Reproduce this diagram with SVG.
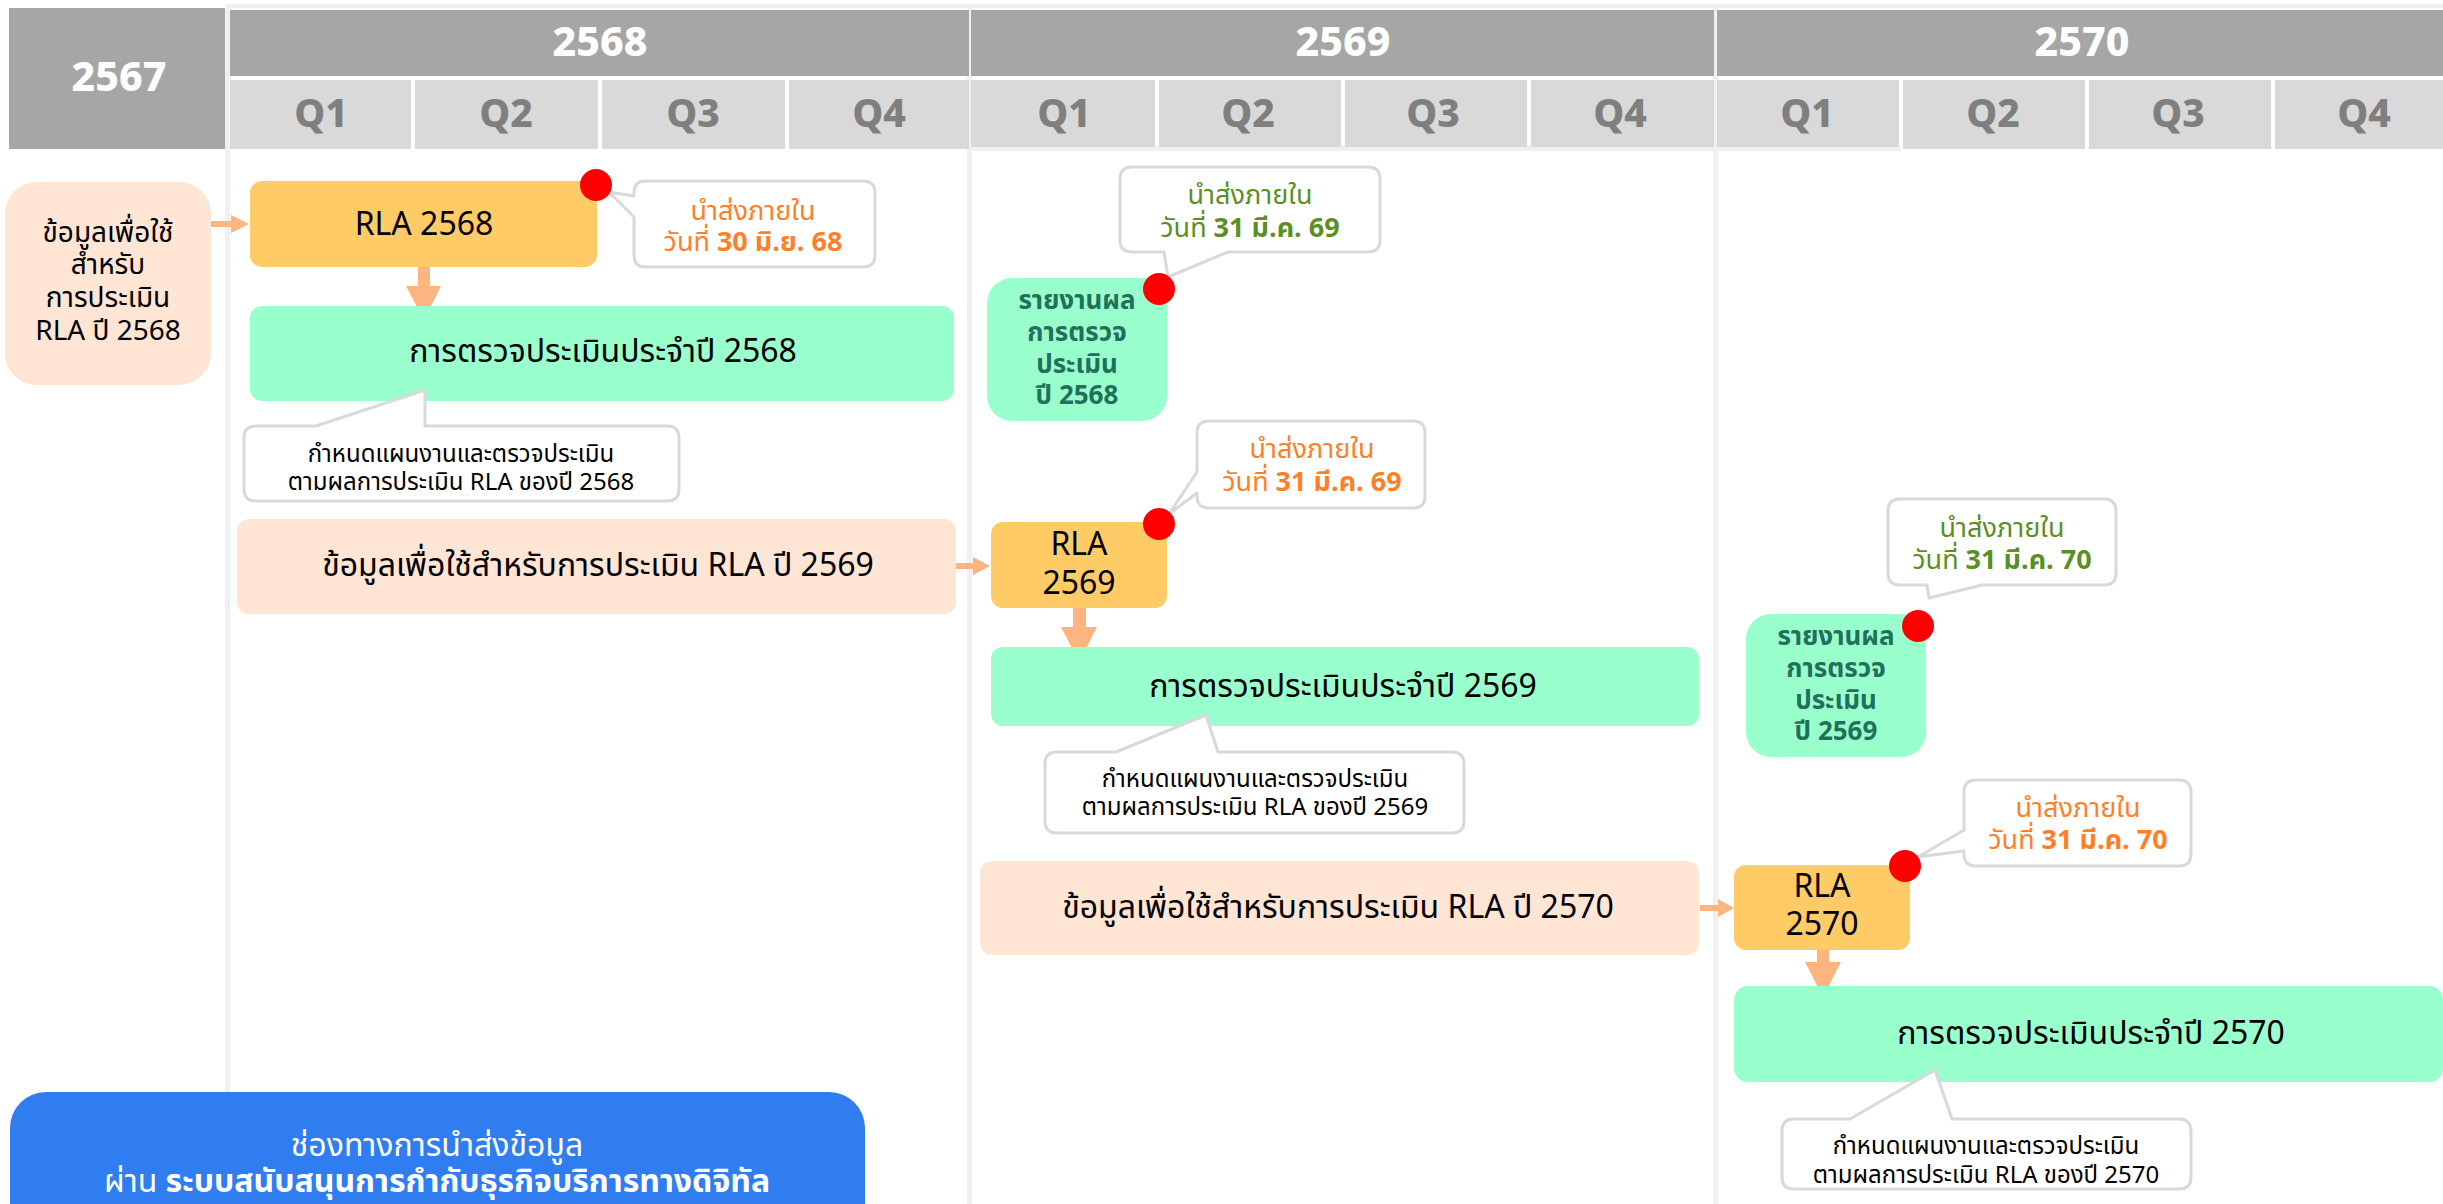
<svg xmlns="http://www.w3.org/2000/svg" width="2443" height="1204" viewBox="0 0 2443 1204">
<style>
text{font-family:'Noto Sans Thai','Noto Sans','DejaVu Sans',sans-serif;text-anchor:middle}
.yr{fill:#a6a6a6}
.qc{fill:#d9d9d9}
.yt{fill:#ffffff;font-size:41px;font-weight:800}
.qt{fill:#7f7f7f;font-size:39px;font-weight:800}
.grid{fill:#f0f0f0}
.peach{fill:#fee5d4}
.orange{fill:#fecb67}
.green{fill:#99ffcc}
.dot{fill:#ff0000}
.call{fill:#ffffff;stroke:#d9d9d9;stroke-width:3;stroke-linejoin:round}
.arr{fill:#fdb47e}
.t28{font-size:32px;fill:#000000}
.t26{font-size:28px;fill:#000000}
.t21{font-size:24px;fill:#000000}
.to{font-size:27px;fill:#ff7f27}
.tg{font-size:27px;fill:#5b8f22}
.rep{font-size:26px;font-weight:700;fill:#21705a}
.b{font-weight:700}
.blue{fill:#2f7df0}
.tw{font-size:32px;fill:#ffffff}
</style>

<g id="grid">
<rect class="grid" x="225" y="4" width="2218" height="4"/>
<rect class="grid" x="225" y="4" width="5" height="1200"/>
<rect class="grid" x="967" y="4" width="5" height="1200"/>
<rect class="grid" x="1713" y="4" width="5" height="1200"/>
<rect class="grid" x="971" y="146" width="930" height="5"/>
</g>

<g id="header">
<rect class="yr" x="9" y="8" width="216" height="141"/>
<text class="yt" x="119" y="91">2567</text>
<rect class="yr" x="230" y="10" width="739" height="66"/>
<text class="yt" x="600" y="56">2568</text>
<rect class="yr" x="971" y="10" width="743" height="66"/>
<text class="yt" x="1343" y="56">2569</text>
<rect class="yr" x="1717" y="10" width="726" height="66"/>
<text class="yt" x="2082" y="56">2570</text>

<rect class="qc" x="230" y="80" width="181" height="69"/>
<rect class="qc" x="415" y="80" width="183" height="69"/>
<rect class="qc" x="602" y="80" width="183" height="69"/>
<rect class="qc" x="789" y="80" width="180" height="69"/>
<text class="qt" x="321" y="127">Q1</text>
<text class="qt" x="506" y="127">Q2</text>
<text class="qt" x="693" y="127">Q3</text>
<text class="qt" x="879" y="127">Q4</text>

<rect class="qc" x="971" y="80" width="184" height="67"/>
<rect class="qc" x="1159" y="80" width="182" height="67"/>
<rect class="qc" x="1345" y="80" width="182" height="67"/>
<rect class="qc" x="1531" y="80" width="183" height="67"/>
<text class="qt" x="1064" y="127">Q1</text>
<text class="qt" x="1248" y="127">Q2</text>
<text class="qt" x="1433" y="127">Q3</text>
<text class="qt" x="1620" y="127">Q4</text>

<rect class="qc" x="1717" y="80" width="182" height="67"/>
<rect class="qc" x="1903" y="80" width="182" height="69"/>
<rect class="qc" x="2089" y="80" width="182" height="69"/>
<rect class="qc" x="2275" y="80" width="168" height="69"/>
<text class="qt" x="1807" y="127">Q1</text>
<text class="qt" x="1993" y="127">Q2</text>
<text class="qt" x="2178" y="127">Q3</text>
<text class="qt" x="2364" y="127">Q4</text>
</g>

<g id="connectors">
<path class="arr" d="M211,221 H231 V215 L249,224 L231,233 V227 H211 Z"/>
<path class="arr" d="M418,267 H430 V286 H441 L424,320 L406,286 H418 Z"/>
<path class="arr" d="M956,563 H973 V557 L990,566 L973,575 V569 H956 Z"/>
<path class="arr" d="M1073,608 H1086 V627 H1097 L1079,662 L1061,627 H1073 Z"/>
<path class="arr" d="M1700,905 H1718 V899 L1734,908 L1718,917 V911 H1700 Z"/>
<path class="arr" d="M1817,950 H1829 V962 H1841 L1823,997 L1805,962 H1817 Z"/>
</g>

<g id="input2568">
<rect class="peach" x="5" y="182" width="206" height="203" rx="32"/>
<text class="t26" x="108" y="242">ข้อมูลเพื่อใช้</text>
<text class="t26" x="108" y="274">สำหรับ</text>
<text class="t26" x="108" y="307">การประเมิน</text>
<text class="t26" x="108" y="340">RLA ปี 2568</text>
</g>

<g id="rla2568">
<rect class="orange" x="250" y="181" width="347" height="86" rx="12"/>
<text class="t28" x="424" y="235">RLA 2568</text>
</g>

<g id="note-rla2568">
<path class="call" d="M646,181 H863 Q875,181 875,193 V255 Q875,267 863,267 H646 Q634,267 634,255 V217 L609,192 L634,196 V193 Q634,181 646,181 Z"/>
<text class="to" x="753" y="220">นำส่งภายใน</text>
<text class="to" x="753" y="251">วันที่ <tspan class="b">30 มิ.ย. 68</tspan></text>
</g>
<circle id="dot-rla2568" class="dot" cx="596" cy="185" r="16"/>

<g id="audit2568">
<rect class="green" x="250" y="306" width="704" height="95" rx="12"/>
<text class="t28" x="603" y="362">การตรวจประเมินประจำปี 2568</text>
</g>

<g id="note-audit2568">
<path class="call" d="M256,426 H316 L425,390 L425,426 H667 Q679,426 679,438 V489 Q679,501 667,501 H256 Q244,501 244,489 V438 Q244,426 256,426 Z"/>
<text class="t21" x="461" y="462">กำหนดแผนงานและตรวจประเมิน</text>
<text class="t21" x="461" y="490">ตามผลการประเมิน RLA ของปี 2568</text>
</g>

<g id="input2569">
<rect class="peach" x="237" y="519" width="719" height="95" rx="12"/>
<text class="t28" x="598" y="576">ข้อมูลเพื่อใช้สำหรับการประเมิน RLA ปี 2569</text>
</g>

<g id="report2568">
<rect class="green" x="987" y="278" width="180" height="143" rx="25"/>
<text class="rep" x="1077" y="309">รายงานผล</text>
<text class="rep" x="1077" y="341">การตรวจ</text>
<text class="rep" x="1077" y="373">ประเมิน</text>
<text class="rep" x="1077" y="404">ปี 2568</text>
</g>

<g id="note-report2568">
<path class="call" d="M1132,167 H1368 Q1380,167 1380,179 V240 Q1380,252 1368,252 H1228 L1168,277 L1164,252 H1132 Q1120,252 1120,240 V179 Q1120,167 1132,167 Z"/>
<text class="tg" x="1250" y="204">นำส่งภายใน</text>
<text class="tg" x="1250" y="237">วันที่ <tspan class="b">31 มี.ค. 69</tspan></text>
</g>
<circle id="dot-report2568" class="dot" cx="1159" cy="289" r="16"/>

<g id="rla2569">
<rect class="orange" x="991" y="522" width="176" height="86" rx="12"/>
<text class="t28" x="1079" y="555">RLA</text>
<text class="t28" x="1079" y="594">2569</text>
</g>

<g id="note-rla2569">
<path class="call" d="M1209,421 H1413 Q1425,421 1425,433 V496 Q1425,508 1413,508 H1209 Q1197,508 1197,496 V493 L1169,514 L1197,472 V433 Q1197,421 1209,421 Z"/>
<text class="to" x="1312" y="458">นำส่งภายใน</text>
<text class="to" x="1312" y="491">วันที่ <tspan class="b">31 มี.ค. 69</tspan></text>
</g>
<circle id="dot-rla2569" class="dot" cx="1159" cy="524" r="16"/>

<g id="audit2569">
<rect class="green" x="991" y="647" width="708" height="79" rx="12"/>
<text class="t28" x="1343" y="697">การตรวจประเมินประจำปี 2569</text>
</g>

<g id="note-audit2569">
<path class="call" d="M1057,752 H1116 L1206,715 L1218,752 H1452 Q1464,752 1464,764 V821 Q1464,833 1452,833 H1057 Q1045,833 1045,821 V764 Q1045,752 1057,752 Z"/>
<text class="t21" x="1255" y="787">กำหนดแผนงานและตรวจประเมิน</text>
<text class="t21" x="1255" y="815">ตามผลการประเมิน RLA ของปี 2569</text>
</g>

<g id="input2570">
<rect class="peach" x="980" y="861" width="719" height="94" rx="12"/>
<text class="t28" x="1338" y="918">ข้อมูลเพื่อใช้สำหรับการประเมิน RLA ปี 2570</text>
</g>

<g id="report2569">
<rect class="green" x="1746" y="614" width="180" height="143" rx="25"/>
<text class="rep" x="1836" y="645">รายงานผล</text>
<text class="rep" x="1836" y="677">การตรวจ</text>
<text class="rep" x="1836" y="709">ประเมิน</text>
<text class="rep" x="1836" y="740">ปี 2569</text>
</g>

<g id="note-report2569">
<path class="call" d="M1900,499 H2104 Q2116,499 2116,511 V573 Q2116,585 2104,585 H1982 L1929,598 L1927,585 H1900 Q1888,585 1888,573 V511 Q1888,499 1900,499 Z"/>
<text class="tg" x="2002" y="537">นำส่งภายใน</text>
<text class="tg" x="2002" y="569">วันที่ <tspan class="b">31 มี.ค. 70</tspan></text>
</g>
<circle id="dot-report2569" class="dot" cx="1918" cy="626" r="16"/>

<g id="rla2570">
<rect class="orange" x="1734" y="865" width="176" height="85" rx="12"/>
<text class="t28" x="1822" y="897">RLA</text>
<text class="t28" x="1822" y="935">2570</text>
</g>

<g id="note-rla2570">
<path class="call" d="M1976,780 H2179 Q2191,780 2191,792 V854 Q2191,866 2179,866 H1976 Q1964,866 1964,854 V851 L1918,857 L1964,830 V792 Q1964,780 1976,780 Z"/>
<text class="to" x="2078" y="817">นำส่งภายใน</text>
<text class="to" x="2078" y="849">วันที่ <tspan class="b">31 มี.ค. 70</tspan></text>
</g>
<circle id="dot-rla2570" class="dot" cx="1905" cy="866" r="16"/>

<g id="audit2570">
<rect class="green" x="1734" y="986" width="709" height="96" rx="14"/>
<text class="t28" x="2091" y="1044">การตรวจประเมินประจำปี 2570</text>
</g>

<g id="note-audit2570">
<path class="call" d="M1794,1119 H1850 L1935,1070 L1952,1119 H2179 Q2191,1119 2191,1131 V1177 Q2191,1189 2179,1189 H1794 Q1782,1189 1782,1177 V1131 Q1782,1119 1794,1119 Z"/>
<text class="t21" x="1986" y="1154">กำหนดแผนงานและตรวจประเมิน</text>
<text class="t21" x="1986" y="1183">ตามผลการประเมิน RLA ของปี 2570</text>
</g>

<g id="channel">
<rect class="blue" x="10" y="1092" width="855" height="150" rx="36"/>
<text class="tw" x="437" y="1156">ช่องทางการนำส่งข้อมูล</text>
<text class="tw" x="437" y="1192">ผ่าน <tspan class="b">ระบบสนับสนุนการกำกับธุรกิจบริการทางดิจิทัล</tspan></text>
</g>
</svg>
